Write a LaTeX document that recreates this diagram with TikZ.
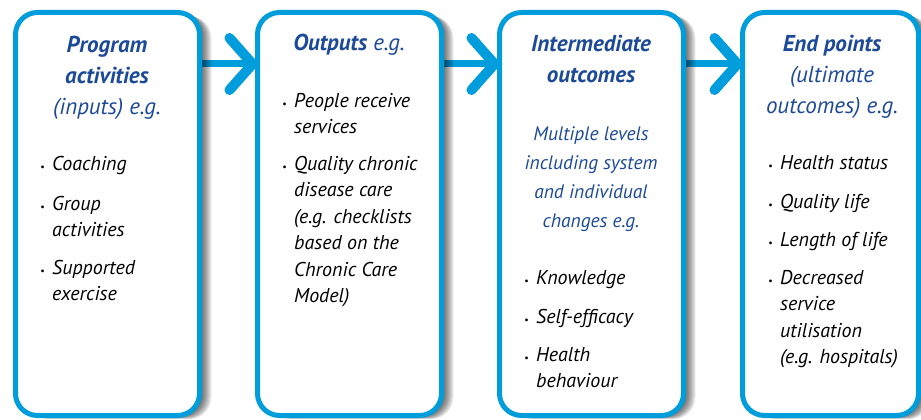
\documentclass[tikz,border=0pt]{standalone}
\usepackage{fontspec}
\setmainfont{PT Sans}
\usetikzlibrary{backgrounds,calc}
\definecolor{cyanb}{RGB}{0,157,220}
\definecolor{titleb}{RGB}{28,74,152}
\newcommand{\bul}{\llap{{\fontsize{10}{10}\selectfont\textbullet}\hspace{7.5pt}}}
\begin{document}
\begin{tikzpicture}[x=1pt,y=-1pt,
  box/.style={draw=cyanb, line width=5pt, fill=white, rounded corners=22pt,
    minimum width=184pt, minimum height=403pt, inner sep=0pt, outer sep=0pt},
  bar/.style={draw=cyanb, line width=7pt},
  chev/.style={draw=cyanb, line width=10pt, line cap=round, line join=round},
  ttl/.style={text=titleb, font=\fontsize{23}{31}\selectfont\itshape, align=center, anchor=base, inner sep=0pt},
  sub/.style={text=titleb, font=\fontsize{19.5}{29}\selectfont\itshape, align=center, anchor=base, inner sep=0pt},
  itm/.style={font=\fontsize{20}{26.5}\selectfont\itshape, align=left, anchor=base west, inner sep=0pt}]
\useasboundingbox (0,0) rectangle (921,420);
% boxes
\node[box] (b1) at (107.5,214) {};
\node[box] (b2) at (349.5,214) {};
\node[box] (b3) at (591.5,214) {};
\node[box, minimum width=176pt] (b4) at (830.5,214) {};
\begin{scope}[on background layer]
  \fill[white] (0,0) rectangle (921,420);
  \foreach \a/\b in {b1/b2,b2/b3,b3/b4}
    \draw[bar] (\a.east |- 0,64) -- ($(\b.west |- 0,64)+(-6,0)$);
  \foreach \n in {b1,b2,b3,b4}
    \foreach \k in {1,...,12}
      \fill[black, opacity=0.07, rounded corners=22pt]
        ($(\n.north west)+(\k*1.0,\k*0.3)$) rectangle ($(\n.south east)+(\k*1.0,\k*0.3)$);
\end{scope}
% chevrons
\foreach \b in {b2,b3,b4}
  \draw[chev] ($(\b.west |- 0,64)+(-28,-26)$) -- ($(\b.west |- 0,64)+(-5,0)$) -- ($(\b.west |- 0,64)+(-28,26)$);
% box 1 (base anchor = baseline of the last line)
\node[ttl] (t1) at (107,114) {\textbf{Program}\\\textbf{activities}\\(inputs) e.g.};
\node[itm] (i11) at (52,170) {\bul Coaching};
\node[itm] (i12) at (52,236.5) {\bul Group\\activities};
\node[itm] (i13) at (52,300.5) {\bul Supported\\exercise};
% box 2
\node[ttl] (t2) at (349,51) {\textbf{Outputs} e.g.};
\node[itm] (i21) at (294,133.5) {\bul People receive\\services};
\node[itm] (i22) at (294,302.5) {\bul Quality chronic\\disease care\\(e.g. checklists\\based on the\\Chronic Care\\Model)};
% box 3
\node[ttl] (t3) at (591,82) {\textbf{Intermediate}\\\textbf{outcomes}};
\node[sub] (s3) at (591,227) {Multiple levels\\including system\\and individual\\changes e.g.};
\node[itm] (i31) at (536,284) {\bul Knowledge};
\node[itm] (i32) at (536,323) {\bul Self-efficacy};
\node[itm] (i33) at (536,387.5) {\bul Health\\behaviour};
% box 4
\node[ttl] (t4) at (832,113) {\textbf{End points}\\(ultimate\\outcomes) e.g.};
\node[itm] (i41) at (780,169) {\bul Health status};
\node[itm] (i42) at (780,208) {\bul Quality life};
\node[itm] (i43) at (780,246) {\bul Length of life};
\node[itm] (i44) at (780,363.5) {\bul Decreased\\service\\utilisation\\(e.g. hospitals)};
\end{tikzpicture}
\end{document}
